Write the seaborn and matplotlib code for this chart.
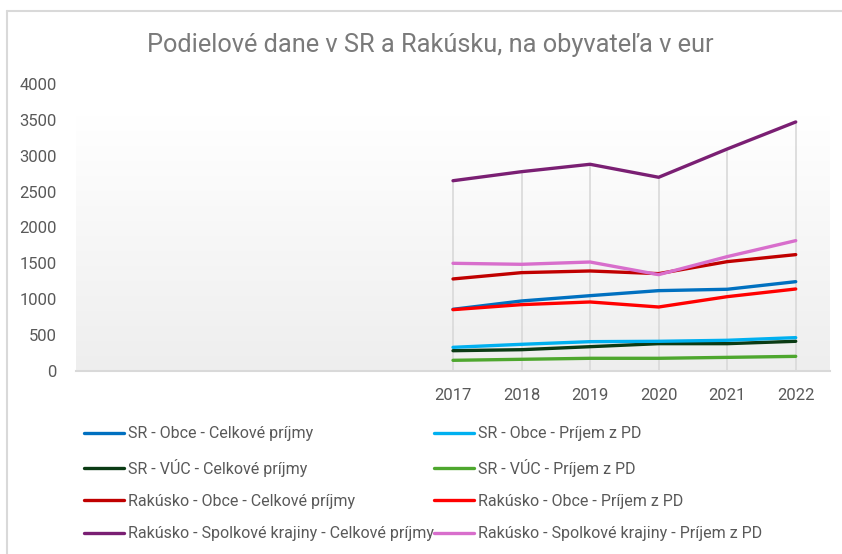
import numpy as np
import pandas as pd
import matplotlib
matplotlib.use("Agg")
import matplotlib.pyplot as plt
import seaborn as sns
from matplotlib.colors import LinearSegmentedColormap

# ---- data ----
categories = ["", "", "", "", "", "2017", "2018", "2019", "2020", "2021", "2022"]
years = ["2017", "2018", "2019", "2020", "2021", "2022"]

sr_obce_celk = [860, 976, 1050, 1120, 1139, 1245]
sr_obce_pd = [330, 372, 409, 414, 428, 465]
sr_vuc_celk = [283, 297, 339, 381, 381, 414]
sr_vuc_pd = [149, 163, 177, 177, 190, 204]
at_obce_celk = [1283, 1371, 1394, 1357, 1524, 1622]
at_obce_pd = [855, 925, 962, 892, 1036, 1143]
at_sk_celk = [2652, 2778, 2881, 2700, 3094, 3471]
at_sk_pd = [1501, 1487, 1519, 1343, 1594, 1817]

series_names = [
    "SR - Obce - Celkové príjmy",
    "SR - VÚC - Celkové príjmy",
    "Rakúsko - Obce - Celkové príjmy",
    "Rakúsko - Spolkové krajiny - Celkové príjmy",
    "SR - Obce - Príjem z PD",
    "SR - VÚC - Príjem z PD",
    "Rakúsko - Obce - Príjem z PD",
    "Rakúsko - Spolkové krajiny - Príjem z PD",
]
series_values = [sr_obce_celk, sr_vuc_celk, at_obce_celk, at_sk_celk,
                 sr_obce_pd, sr_vuc_pd, at_obce_pd, at_sk_pd]
series_colors = ["#0070C0", "#0B3B14", "#C00000", "#7A1F73",
                 "#00B0F0", "#4EA72E", "#FF0000", "#D86ECC"]

title = "Podielové dane v SR a Rakúsku, na obyvateľa v eur"

# ---- build long table ----
rows = []
for name, vals in zip(series_names, series_values):
    for y, v in zip(years, vals):
        rows.append({"pos": categories.index(y), "value": v, "series": name})
df = pd.DataFrame(rows)

sns.set_theme(style="white")
plt.rcParams["font.family"] = ["Roboto", "DejaVu Sans"]

fig = plt.figure(figsize=(8.42, 5.54), dpi=100)
ax = fig.add_axes([76 / 842, (554 - 371) / 554, 754 / 842, 287 / 554])

# gradient plot-area background
grad = np.linspace(0, 1, 256).reshape(-1, 1)
cmap = LinearSegmentedColormap.from_list("g", ["#EEEEEE", "#FFFFFF"])
ax.imshow(grad, aspect="auto", cmap=cmap, origin="lower",
          extent=[-0.5, len(categories) - 0.5, 0, 3560], zorder=0)

# drop lines
year_pos = [categories.index(y) for y in years]
maxima = [max(v[i] for v in series_values) for i in range(len(years))]
ax.vlines(year_pos, 0, maxima, color="#D9D9D9", lw=1.2, zorder=1)

palette = dict(zip(series_names, series_colors))
sns.lineplot(data=df, x="pos", y="value", hue="series", hue_order=series_names,
             palette=palette, lw=2.4, ax=ax, legend=False, zorder=3,
             solid_capstyle="round")

ax.set_xlim(-0.5, len(categories) - 0.5)
ax.set_ylim(0, 4000)
ax.set_xticks(range(len(categories)))
ax.set_xticklabels(categories)
ax.set_yticks(range(0, 4001, 500))
ax.tick_params(axis="both", length=0, labelsize=12, labelcolor="#595959")
ax.tick_params(axis="x", pad=12)
ax.tick_params(axis="y", pad=14)
ax.set_xlabel("")
ax.set_ylabel("")
for s in ["top", "right", "left"]:
    ax.spines[s].set_visible(False)
ax.spines["bottom"].set_color("#D9D9D9")
ax.spines["bottom"].set_linewidth(1.5)
ax.set_facecolor("none")
ax.grid(False)

fig.text(430 / 842, 1 - 45 / 554, title, ha="center", va="center",
         fontsize=18.3, color="#7A7A7A")

handles = [plt.Line2D([], [], color=c, lw=2.4, solid_capstyle="round")
           for c in series_colors]
leg = fig.legend(handles, series_names, ncol=2, loc="upper left",
                 bbox_to_anchor=(70 / 842, 1 - 412 / 554), frameon=False,
                 fontsize=11.5, handlelength=2.5, handletextpad=0.25,
                 columnspacing=0.0, labelspacing=1.08)
for t in leg.get_texts():
    t.set_color("#595959")

# chart border
fig.add_artist(plt.Line2D([7 / 842, 7 / 842], [0, 1 - 11 / 554],
                          color="#D9D9D9", lw=1.5, transform=fig.transFigure))
fig.add_artist(plt.Line2D([7 / 842, 1], [1 - 11 / 554, 1 - 11 / 554],
                          color="#D9D9D9", lw=1.5, transform=fig.transFigure))

fig.savefig("out.png", dpi=100)
